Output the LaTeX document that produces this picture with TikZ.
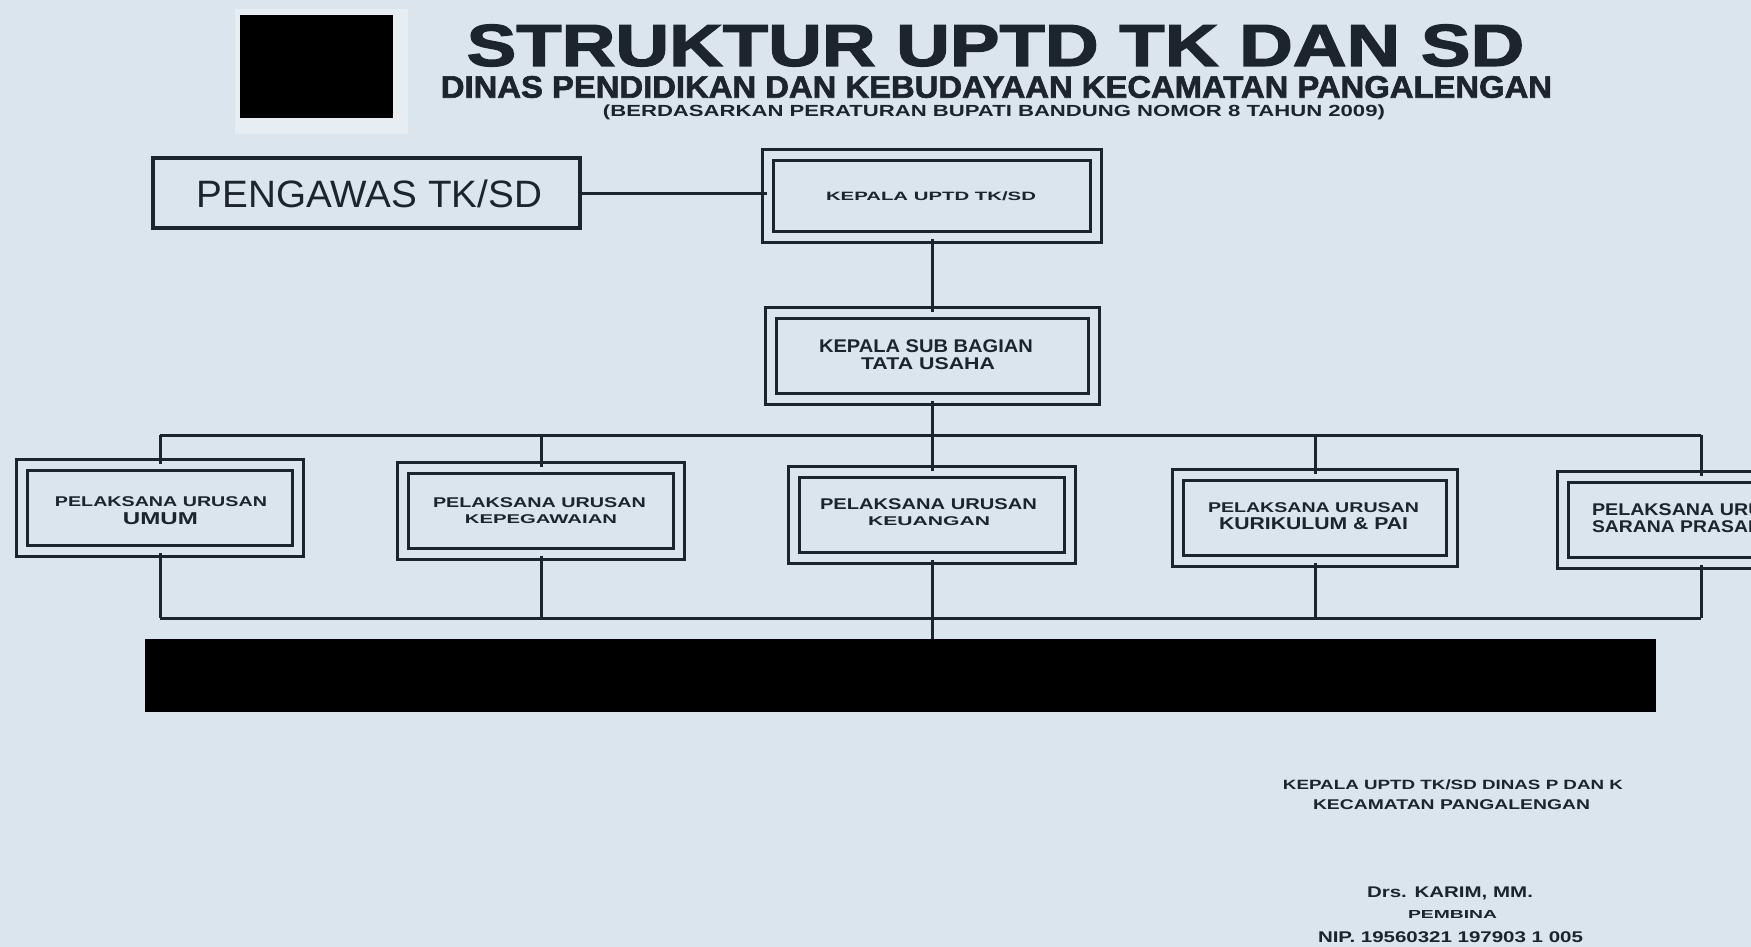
\documentclass[tikz,border=0pt]{standalone}
\usepackage{fontspec}
\setmainfont{Liberation Sans}
\newfontfamily\heavy{Liberation Sans}[BoldFeatures={FakeBold=2}]
\newcommand{\fitt}[3]{\resizebox*{#1pt}{#2pt}{#3}}
\definecolor{bg}{RGB}{218,229,238}
\definecolor{ink}{RGB}{28,36,46}
\definecolor{paleframe}{RGB}{232,237,241}
\begin{document}
\begin{tikzpicture}[x=1pt,y=-1pt,
  dbox/.style={draw=ink, line width=3pt, double=bg, double distance=8pt, inner sep=0pt},
  lowbox/.style={dbox, minimum width=276pt, minimum height=86pt},
  txt/.style={inner sep=0pt, text=ink},
  conn/.style={draw=ink, line width=3pt}]
\useasboundingbox (0,0) rectangle (1751,947);
\fill[bg] (0,0) rectangle (1751,947);
\clip (0,0) rectangle (1751,947);

% logo placeholder
\fill[paleframe] (235,9) rectangle (408,134);
\node[fill=black, minimum width=153pt, minimum height=103pt, inner sep=0pt] (logo) at (316.5,66.5) {};

% header
\node[txt] (title) at (995.5,45.5) {\fitt{1057}{42}{\heavy\bfseries STRUKTUR UPTD TK DAN SD}};
\node[txt] (sub1) at (996.5,87) {\fitt{1111}{22}{\heavy\bfseries DINAS PENDIDIKAN DAN KEBUDAYAAN KECAMATAN PANGALENGAN}};
\node[txt] (sub2) at (994,112) {\fitt{782}{15}{\bfseries (BERDASARKAN PERATURAN BUPATI BANDUNG NOMOR 8 TAHUN 2009)}};

% top boxes
\node[draw=ink, line width=4pt, minimum width=427pt, minimum height=70pt, inner sep=0pt] (peng) at (366,193) {};
\node[txt] (pengt) at (369.5,193.5) {\fitt{345}{28}{PENGAWAS TK/SD}};

\node[dbox, minimum width=328pt, minimum height=82pt] (k1) at (932,196) {};
\node[txt] (k1t) at (931,196.5) {\fitt{210}{9}{\bfseries KEPALA UPTD TK/SD}};

\node[dbox, minimum width=323pt, minimum height=86pt] (k2) at (932,356) {};
\node[txt] (k2a) at (926,346.5) {\fitt{214}{13}{\bfseries KEPALA SUB BAGIAN}};
\node[txt] (k2b) at (928,364) {\fitt{134}{12}{\bfseries TATA USAHA}};

% lower boxes
\node[lowbox] (u1) at (160,508) {};
\node[txt] (u1a) at (161,502) {\fitt{212}{10}{\bfseries PELAKSANA URUSAN}};
\node[txt] (u1b) at (160.5,519) {\fitt{75}{12}{\bfseries UMUM}};

\node[lowbox] (u2) at (541,511) {};
\node[txt] (u2a) at (539.5,502.5) {\fitt{213}{10}{\bfseries PELAKSANA URUSAN}};
\node[txt] (u2b) at (541,519) {\fitt{152}{9}{\bfseries KEPEGAWAIAN}};

\node[lowbox] (u3) at (932,515) {};
\node[txt] (u3a) at (928.5,504) {\fitt{217}{11}{\bfseries PELAKSANA URUSAN}};
\node[txt] (u3b) at (929,521) {\fitt{122}{9}{\bfseries KEUANGAN}};

\node[lowbox, minimum width=274pt] (u4) at (1315,518) {};
\node[txt] (u4a) at (1313.5,508) {\fitt{211}{10}{\bfseries PELAKSANA URUSAN}};
\node[txt] (u4b) at (1313.5,524) {\fitt{189}{12}{\bfseries KURIKULUM \& PAI}};

\node[lowbox] (u5) at (1701,520) {};
\node[txt] (u5a) at (1698,510) {\fitt{212}{12}{\bfseries PELAKSANA URUSAN}};
\node[txt] (u5b) at (1698,526.5) {\fitt{212}{12}{\bfseries SARANA PRASARANA}};

% bar
\node[fill=black, minimum width=1511pt, minimum height=73pt, inner sep=0pt] (bar) at (900.5,675.5) {};

% bus coordinates
\coordinate (t1) at (160,435);
\coordinate (t2) at (541,435);
\coordinate (t3) at (932,435);
\coordinate (t4) at (1315,435);
\coordinate (t5) at (1701,435);
\coordinate (l1) at (160,618);
\coordinate (l2) at (541,618);
\coordinate (l3) at (932,618);
\coordinate (l4) at (1315,618);
\coordinate (l5) at (1701,618);

% connectors
\draw[conn] (peng.east) -- (peng.east -| k1.west);
\draw[conn] (k1.south) -- (k2.north);
\draw[conn] (k2.south) -- (t3);
\draw[conn] (t1) -- (t5);
\foreach \i in {1,...,5}{
  \draw[conn] (t\i) -- (u\i.north);
  \draw[conn] (u\i.south) -- (l\i);
}
\draw[conn] (l1) -- (l5);
\draw[conn] (l3) -- (l3 |- bar.north);

% signature block
\node[txt] (s1) at (1453,785) {\fitt{340}{10}{\bfseries KEPALA UPTD TK/SD DINAS P DAN K}};
\node[txt] (s2) at (1451.5,805) {\fitt{277}{10}{\bfseries KECAMATAN PANGALENGAN}};
\node[txt] (s3) at (1450,893.5) {\fitt{166}{13}{\bfseries Drs. KARIM, MM.}};
\node[txt] (s4) at (1452.5,914) {\fitt{89}{8}{\bfseries PEMBINA}};
\node[txt] (s5) at (1450.5,937.5) {\fitt{265}{11}{\bfseries NIP. 19560321 197903 1 005}};
\end{tikzpicture}
\end{document}
